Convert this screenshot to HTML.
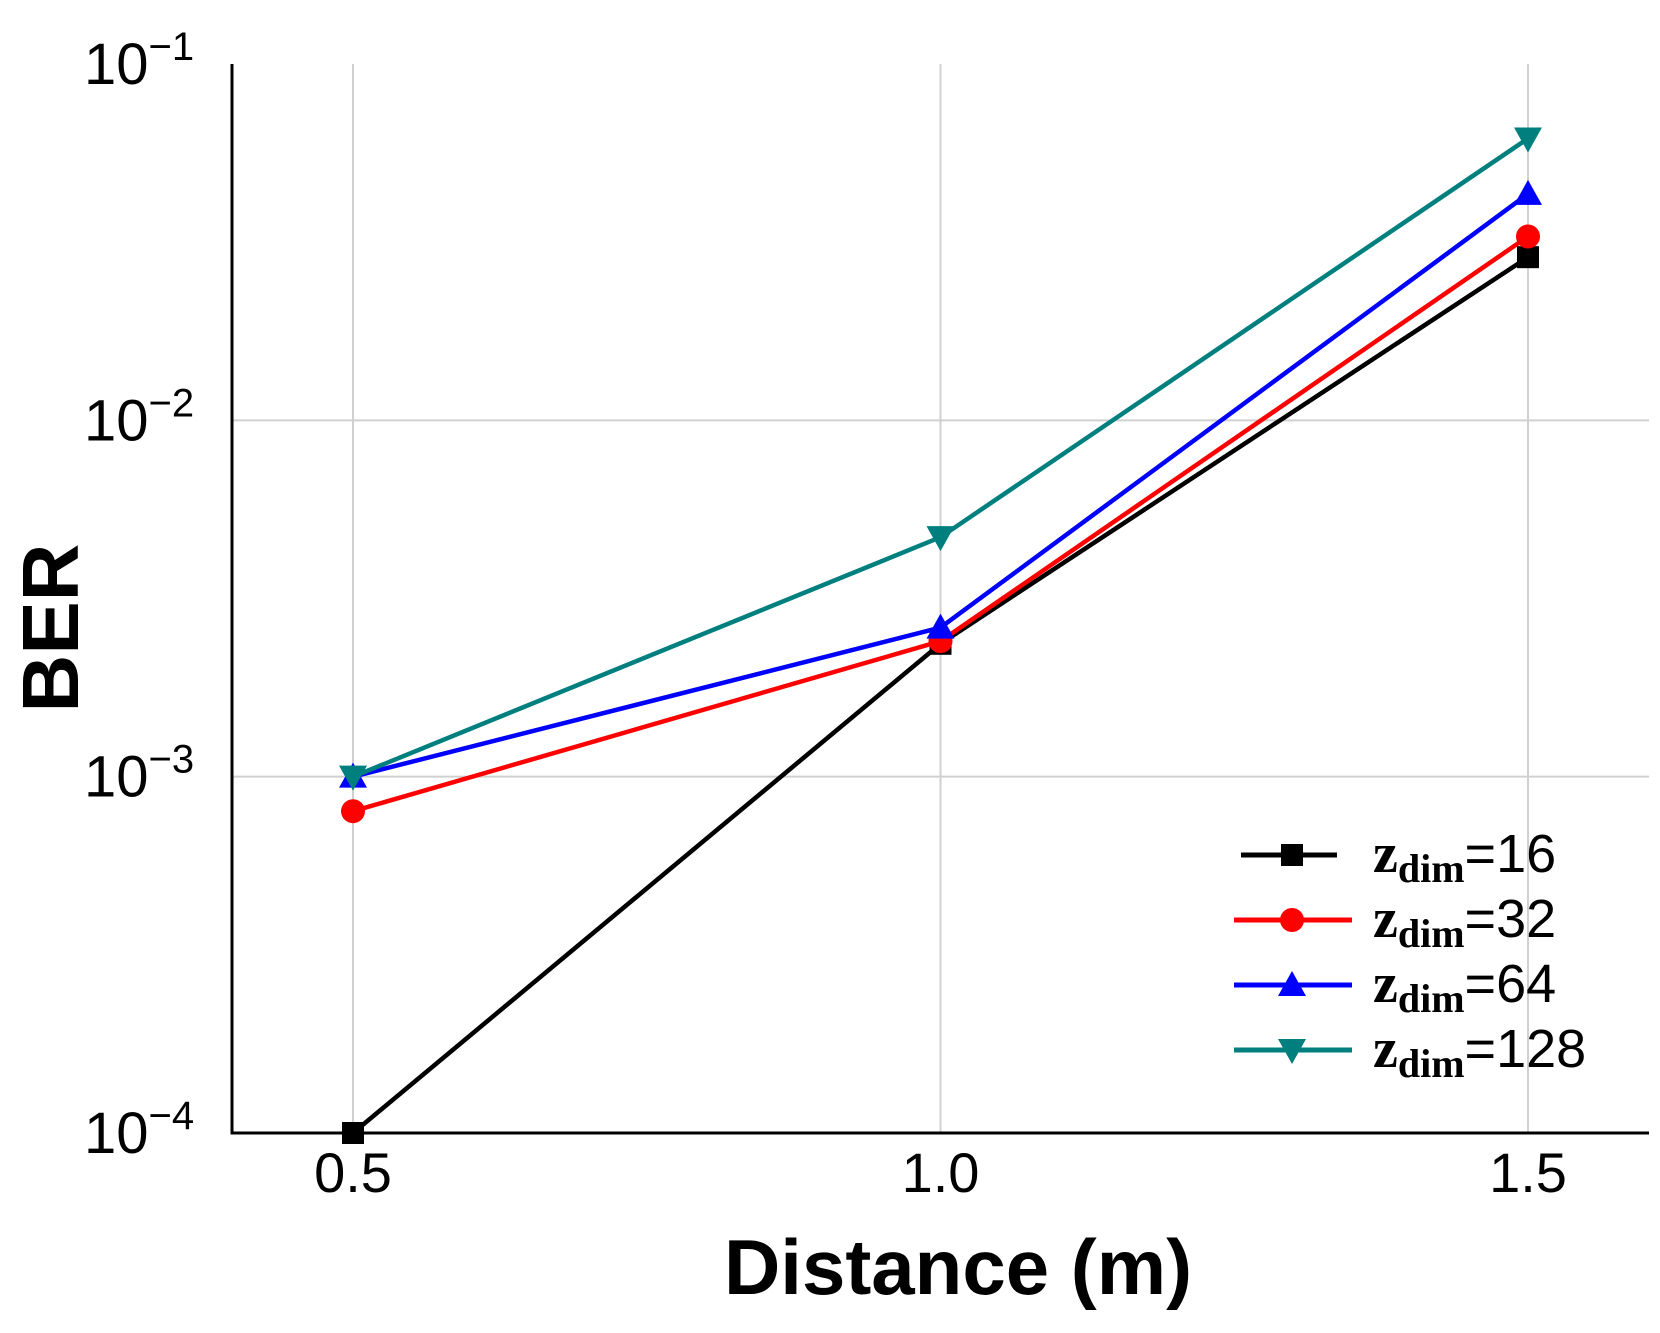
<!DOCTYPE html>
<html><head><meta charset="utf-8"><style>
body{margin:0;background:#fff}
svg{display:block}
text{font-family:"Liberation Sans",sans-serif}
</style></head><body>
<svg id="chart" width="1660" height="1333" xmlns="http://www.w3.org/2000/svg">
<g id="grid"></g>
<g id="series"></g>
<g id="axes"></g>
<g id="legend"></g>
<text x="958" y="1294" text-anchor="middle" font-size="78" font-weight="bold">Distance (m)</text>
<text transform="translate(78,628) rotate(-90)" text-anchor="middle" font-size="80" font-weight="bold">BER</text>
</svg>
<script>
const categories=[0.5,1.0,1.5];
const xTickLabels=["0.5","1.0","1.5"];
const yTickExps=[-1,-2,-3,-4];
const seriesNames=["16","32","64","128"];
const s16=[1e-4,2.36e-3,0.0287];
const s32=[8e-4,2.4e-3,0.0328];
const s64=[1e-3,2.62e-3,0.0432];
const s128=[1e-3,4.7e-3,0.0618];
const colors=["#000000","#ff0000","#0000ff","#007f7f"];
const markers=["square","circle","up","down"];
const NS="http://www.w3.org/2000/svg";
const L=232,R=1649,T=64,B=1133;
function xs(v){return 353+(v-0.5)*(1528-353);}
function ys(v){return B-(Math.log10(v)+4)/3*(B-T);}
function mk(t,a,p){const e=document.createElementNS(NS,t);for(const k in a)e.setAttribute(k,a[k]);if(p)p.appendChild(e);return e;}
const grid=document.getElementById('grid'),axes=document.getElementById('axes'),ser=document.getElementById('series'),leg=document.getElementById('legend');
categories.forEach((c,i)=>{
 const g=mk('line',{x1:xs(c),x2:xs(c),y1:T,y2:B,stroke:'#d0d0d0','stroke-width':2},grid);
 
 
 const t=mk('text',{x:xs(c),y:1192,'text-anchor':'middle','font-size':56},axes);
 t.textContent=xTickLabels[i];
 
 
});
yTickExps.forEach(e=>{
 const y=ys(Math.pow(10,e));
 if(e>-4&&e<-1){const g=mk('line',{x1:L,x2:R,y1:y,y2:y,stroke:'#d0d0d0','stroke-width':2},grid);
 
 }
 const t=mk('text',{x:84,y:y+20,'font-size':58,'font-family':'Liberation Serif, serif'},axes);
 t.innerHTML='10<tspan dy="-24" font-size="40">−'+(-e)+'</tspan>';
 
 
});
const ax=mk('path',{d:`M${L} ${T} V${B} H${R}`,fill:'none',stroke:'#000','stroke-width':3},axes);


function marker(type,x,y,c,p){
 let e;
 if(type==='square')e=mk('rect',{x:x-11,y:y-11,width:22,height:22,fill:c},p);
 else if(type==='circle')e=mk('circle',{cx:x,cy:y,r:12,fill:c},p);
 else if(type==='up')e=mk('polygon',{points:`${x},${y-14} ${x-14},${y+11} ${x+14},${y+11}`,fill:c},p);
 else e=mk('polygon',{points:`${x},${y+14} ${x-14},${y-11} ${x+14},${y-11}`,fill:c},p);
 return e;
}
[s16,s32,s64,s128].forEach((s,i)=>{
 const g=mk('g',{},ser);
 
 
 const pl=mk('polyline',{points:s.map((v,j)=>xs(categories[j])+','+ys(v)).join(' '),fill:'none',stroke:colors[i],'stroke-width':4.5},g);
 
 
 s.forEach((v,j)=>{const m=marker(markers[i],xs(categories[j]),ys(v),colors[i],g);
  
  });
 const ly=855+i*65;
 const lg=mk('g',{},leg);
 
 
 mk('line',{x1:i?1234:1241,x2:i?1352:1337,y1:ly,y2:ly,stroke:colors[i],'stroke-width':5},lg);
 marker(markers[i],1292,ly,colors[i],lg);
 const t=mk('text',{x:1373,y:ly+17,'font-size':54},lg);
 t.innerHTML='<tspan font-family="Liberation Serif, serif" font-weight="bold" font-size="56">z</tspan><tspan font-family="Liberation Serif, serif" font-weight="bold" font-size="40" dy="10">dim</tspan><tspan dy="-10">='+seriesNames[i]+'</tspan>';
});
</script>
</body></html>
